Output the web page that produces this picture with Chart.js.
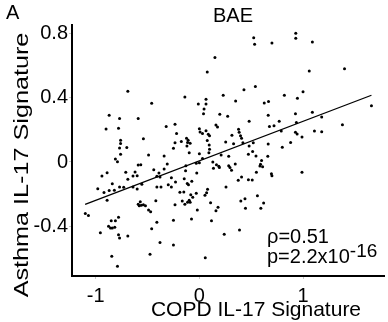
<!DOCTYPE html>
<html>
<head>
<meta charset="utf-8">
<title>BAE IL-17 signature</title>
<script src="https://cdn.jsdelivr.net/npm/chart.js@4"></script>
<style>
  body { margin: 0; background: #fff; }
  canvas { display: block; }
</style>
</head>
<body>
<canvas id="chart" width="388" height="322"></canvas>
<script>
// COPD IL-17 signature (x) vs asthma IL-17 signature (y), one dot per subject
const copdScore = [
  -0.69, -0.46, -0.87, -0.77, -0.59, -0.90, -0.78, -0.32, -0.235, -0.54, -0.76, -0.76, -0.77, -0.70, -0.235, -0.25,
  0.524, 0.533, 0.70, 0.15, 0.076, 0.54, 0.43, 0.23, -0.14, 0.064, 0.35, -0.01, 0.064, 0.626, 0.667, 0.045,
  0.04, 0.197, 0.273, 0.664, 0.48, 0.77, 0.16, 0.175, 0.676, 0.72, 0, 0.064, 0.007, 0.03, 0.086, 0.098,
  0.378, 0.384, 0.314, 0.397, 0.407, -0.22, -0.124, -0.108, -0.114, -0.089, -0.174, -0.12, 0.076, 0.095,
  0.254, 0.42, 0.52, 0.48, 0.33, 0.664, 0.098,
  0.93, 0.93, 1.09, 1.06, 1.40, 0.82, 1.0, 0.946, 1.66, 0.927, 1.09, 1.18, 0.936, 1.38, 1.11, 1.18,
  0.927, 0.943, 0.99, 0.79, 0.88, 0.80,
  -0.76, -0.81, -0.79, -0.49, -0.34, -0.31, -0.34, -0.565, -0.59, -0.89, -0.94, -0.71, -0.62, -0.64, -0.60, -0.44,
  -0.39, -0.41, -0.38, -0.69, -0.84, -0.27, -0.23, -0.98, -0.92, -0.87, -0.82, -0.77, -0.73, -0.64, -0.60, -0.555,
  -0.41, -0.37, -0.30, -0.27, -0.89, -0.42, -0.57, -0.59, -0.56, -0.54, -0.52, -0.58, -0.49, -0.47, -0.235, -1.10,
  -1.07, -0.78, -0.85, -0.81, -0.25, -0.41, -0.876, -0.857, -0.84, -0.816, -0.46, -0.955, -0.78, -0.77, -0.69, -0.38,
  -0.25, -0.476, -0.845, -0.79,
  -0.098, 0, 0.092, 0.03, 0.21, 0.283, 0.473, 0.514, 0.546, 0.66, 0.60, 0, -0.03, -0.13, 0.13, 0.165,
  0.188, 0.136, 0.193, 0.283, 0.295, 0.346, 0.31, 0.584, 0.61, 0.59, 0.55, 0.695, 0.70, -0.133, -0.025, -0.146,
  -0.073, -0.117, -0.105, 0.407, 0.375, 0.473, 0.51, 0.257, -0.188, -0.15, -0.083, -0.064, -0.03, -0.165, -0.14, -0.098,
  -0.089, -0.114, 0.054, 0.07, 0.079, 0.108, -0.02, 0.16, 0.18, 0.40, 0.44, 0.445, 0.56, 0.62, 0.593, -0.076,
  0.117, 0.24, 0.387, 0.057,
  0.99
];
const asthmaScore = [
  0.44, 0.365, 0.29, 0.27, 0.27, 0.205, 0.21, 0.22, 0.235, 0.145, 0.135, 0.115, 0.087, 0.09, 0.12, 0.085,
  0.773, 0.732, 0.74, 0.65, 0.56, 0.47, 0.45, 0.415, 0.405, 0.39, 0.38, 0.36, 0.36, 0.367, 0.377, 0.33,
  0.30, 0.297, 0.284, 0.29, 0.253, 0.253, 0.23, 0.218, 0.22, 0.226, 0.207, 0.195, 0.187, 0.178, 0.172, 0.164,
  0.203, 0.185, 0.166, 0.164, 0.147, 0.178, 0.147, 0.135, 0.122, 0.116, 0.128, 0.10, 0.133, 0.106,
  0.124, 0.12, 0.12, 0.10, 0.114, 0.112, 0.079,
  0.80, 0.77, 0.746, 0.566, 0.58, 0.415, 0.437, 0.396, 0.35, 0.30, 0.309, 0.28, 0.245, 0.232, 0.193, 0.188,
  0.185, 0.174, 0.155, 0.193, 0.122, 0.091,
  0.048, 0.019, 0.002, 0.044, 0.037, -0.012, -0.044, -0.017, -0.019, -0.067, -0.087, -0.064, -0.062, -0.087, -0.085, -0.048,
  -0.068, -0.089, -0.093, -0.108, -0.135, -0.098, -0.124, -0.166, -0.189, -0.178, -0.176, -0.155, -0.157, -0.155, -0.168, -0.139,
  -0.155, -0.155, -0.141, -0.155, -0.238, -0.241, -0.247, -0.263, -0.269, -0.266, -0.272, -0.272, -0.299, -0.309, -0.266, -0.321,
  -0.332, -0.344, -0.365, -0.365, -0.363, -0.375, -0.40, -0.41, -0.41, -0.406, -0.415, -0.44, -0.452, -0.473, -0.46, -0.50,
  -0.516, -0.574, -0.586, -0.649,
  0.058, 0.052, 0.058, 0.021, 0.044, 0.035, 0.048, 0.066, 0.037, 0.035, 0.01, -0.004, -0.008, -0.023, 0, -0.017,
  -0.027, -0.039, -0.035, -0.023, -0.035, -0.012, -0.052, -0.025, -0.029, -0.014, -0.064, -0.073, -0.085, -0.054, -0.068, -0.104,
  -0.12, -0.133, -0.141, -0.093, -0.114, -0.11, -0.112, -0.155, -0.188, -0.187, -0.203, -0.22, -0.195, -0.243, -0.263, -0.238,
  -0.251, -0.251, -0.207, -0.191, -0.17, -0.253, -0.298, -0.303, -0.282, -0.243, -0.228, -0.288, -0.21, -0.255, -0.288, -0.354,
  -0.365, -0.45, -0.423, -0.595,
  -0.064
];

// regression line end points
const fitX = [-1.102, 1.66];
const fitY = [-0.263, 0.415];

const xTicks = [-1, 0, 1];
const xTickLabels = ['-1', '0', '1'];
const yTicks = [-0.4, 0, 0.4, 0.8];
const yTickLabels = ['-0.4', '0', '0.4', '0.8'];

const FONT = 'Liberation Sans';

const points = copdScore.map((x, i) => ({ x: x, y: asthmaScore[i] }));
const fitLine = fitX.map((x, i) => ({ x: x, y: fitY[i] }));

// free texts: panel letter, title, stats, axis titles
const textPlugin = {
  id: 'texts',
  afterDraw(chart) {
    const ctx = chart.ctx;
    ctx.save();
    ctx.fillStyle = '#000';
    ctx.textBaseline = 'alphabetic';
    ctx.font = '20px "' + FONT + '"';
    ctx.textAlign = 'left';
    ctx.fillText('A', 6, 19);
    ctx.textAlign = 'center';
    ctx.fillText('BAE', 233, 22);

    ctx.textAlign = 'left';
    ctx.fillText('\u03C1=0.51', 267, 243);
    const main = 'p=2.2x10';
    ctx.fillText(main, 267, 263);
    const w = ctx.measureText(main).width;
    ctx.font = '19px "' + FONT + '"';
    ctx.fillText('-16', 267 + w, 257);

    ctx.font = '21px "' + FONT + '"';
    ctx.textAlign = 'center';
    ctx.textBaseline = 'middle';
    ctx.fillText('COPD IL-17 Signature', 256, 310);

    ctx.translate(22, 165);
    ctx.rotate(-Math.PI / 2);
    ctx.scale(1.2, 1);
    ctx.fillText('Asthma IL-17 Signature', 0, 0);
    ctx.restore();
  }
};

new Chart(document.getElementById('chart'), {
  type: 'scatter',
  data: {
    datasets: [
      {
        data: points,
        backgroundColor: '#000',
        borderWidth: 0,
        pointRadius: 1.5
      },
      {
        data: fitLine,
        showLine: true,
        borderColor: '#000',
        borderWidth: 1.3,
        pointRadius: 0
      }
    ]
  },
  options: {
    responsive: false,
    animation: false,
    devicePixelRatio: 1,
    layout: { padding: { top: 25, right: 0, bottom: 0, left: 0 } },
    plugins: {
      legend: { display: false },
      tooltip: { enabled: false }
    },
    scales: {
      x: {
        type: 'linear',
        min: -1.2286,
        max: 1.781,
        afterBuildTicks: s => { s.ticks = xTicks.map(v => ({ value: v })); },
        afterFit: s => { s.height = 46; },
        ticks: {
          callback: (v, i) => xTickLabels[i],
          font: { family: FONT, size: 20 },
          color: '#000',
          padding: 5,
          maxRotation: 0,
          autoSkip: false
        },
        grid: { drawOnChartArea: false, tickLength: 3, color: '#c8c8c8' },
        border: { color: '#000', width: 2 }
      },
      y: {
        type: 'linear',
        min: -0.709,
        max: 0.852,
        afterBuildTicks: s => { s.ticks = yTicks.map(v => ({ value: v })); },
        afterFit: s => { s.width = 72; },
        ticks: {
          callback: (v, i) => yTickLabels[i],
          font: { family: FONT, size: 20 },
          color: '#000',
          padding: 1,
          autoSkip: false
        },
        grid: { drawOnChartArea: false, tickLength: 3, color: '#c8c8c8' },
        border: { color: '#000', width: 2 }
      }
    }
  },
  plugins: [textPlugin]
});
</script>
</body>
</html>
